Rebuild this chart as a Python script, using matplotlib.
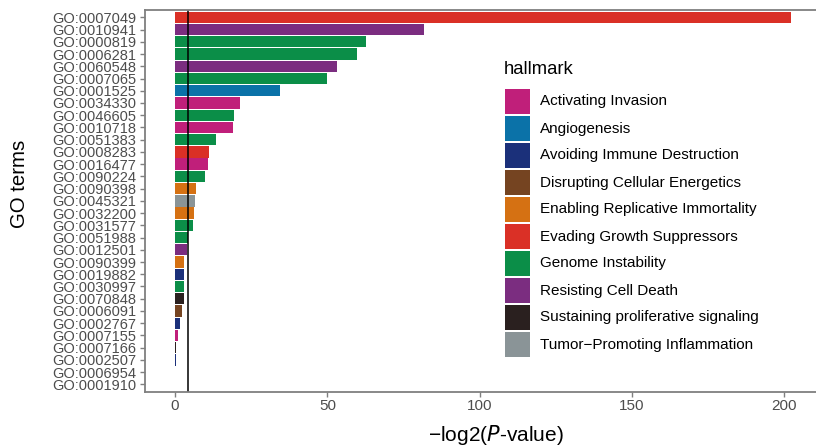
import matplotlib
matplotlib.use("Agg")
import matplotlib.pyplot as plt
from matplotlib.patches import Rectangle

plt.rcParams['font.family'] = ['Liberation Sans', 'DejaVu Sans']

go_terms = ["GO:0007049", "GO:0010941", "GO:0000819", "GO:0006281", "GO:0060548",
            "GO:0007065", "GO:0001525", "GO:0034330", "GO:0046605", "GO:0010718",
            "GO:0051383", "GO:0008283", "GO:0016477", "GO:0090224", "GO:0090398",
            "GO:0045321", "GO:0032200", "GO:0031577", "GO:0051988", "GO:0012501",
            "GO:0090399", "GO:0019882", "GO:0030997", "GO:0070848", "GO:0006091",
            "GO:0002767", "GO:0007155", "GO:0007166", "GO:0002507", "GO:0006954",
            "GO:0001910"]

neglog2p = [202.2, 81.7, 62.7, 59.7, 53.2,
            49.9, 34.5, 21.3, 19.4, 19.0,
            13.5, 11.2, 10.8, 9.8, 6.9,
            6.6, 6.2, 5.9, 4.4, 3.9,
            3.0, 3.0, 3.0, 3.0, 2.3,
            1.6, 1.0, 0.35, 0.3, 0.08,
            0.08]

term_hallmark = ["Evading Growth Suppressors", "Resisting Cell Death", "Genome Instability",
                 "Genome Instability", "Resisting Cell Death", "Genome Instability",
                 "Angiogenesis", "Activating Invasion", "Genome Instability",
                 "Activating Invasion", "Genome Instability", "Evading Growth Suppressors",
                 "Activating Invasion", "Genome Instability", "Enabling Replicative Immortality",
                 "Tumor\u2212Promoting Inflammation", "Enabling Replicative Immortality",
                 "Genome Instability", "Genome Instability", "Resisting Cell Death",
                 "Enabling Replicative Immortality", "Avoiding Immune Destruction",
                 "Genome Instability", "Sustaining proliferative signaling",
                 "Disrupting Cellular Energetics", "Avoiding Immune Destruction",
                 "Activating Invasion", "Sustaining proliferative signaling",
                 "Avoiding Immune Destruction", "Tumor\u2212Promoting Inflammation",
                 "Avoiding Immune Destruction"]

hallmarks = ["Activating Invasion", "Angiogenesis", "Avoiding Immune Destruction",
             "Disrupting Cellular Energetics", "Enabling Replicative Immortality",
             "Evading Growth Suppressors", "Genome Instability", "Resisting Cell Death",
             "Sustaining proliferative signaling", "Tumor\u2212Promoting Inflammation"]

hallmark_colors = ["#C01F7A", "#0B72A8", "#1B307A", "#754421", "#D57113",
                   "#DA3026", "#0B8E48", "#7B2D80", "#2A201F", "#8A9497"]

threshold = 4.32  # -log2(0.05)

W, H = 816, 447
fig = plt.figure(figsize=(W / 100, H / 100), dpi=100)

left_px, right_px, top_px, bottom_px = 145, 821, 10, 391.7
ax = fig.add_axes([left_px / W, 1 - bottom_px / H,
                   (right_px - left_px) / W, (bottom_px - top_px) / H])

cmap = dict(zip(hallmarks, hallmark_colors))
ypos = list(range(len(go_terms)))
ax.barh(ypos, neglog2p, height=0.93,
        color=[cmap[h] for h in term_hallmark], linewidth=0)
ax.axvline(threshold, color="black", lw=1.1)

ax.set_xlim(-9.85, 212.0)
ax.set_ylim(len(go_terms) - 0.4, -0.6)
ax.set_yticks(ypos)
ax.set_yticklabels(go_terms)
ax.set_xticks([0, 50, 100, 150, 200])

spine_col = "#7F7F7F"
for s in ["left", "bottom", "top"]:
    ax.spines[s].set_color(spine_col)
    ax.spines[s].set_linewidth(1.3)
ax.spines["right"].set_visible(False)
ax.tick_params(axis="both", colors=spine_col, labelcolor="#4D4D4D",
               labelsize=11, length=3.5, width=1.0, pad=2)
ax.tick_params(axis="y", pad=2.8, labelsize=10.5)

fig.text(496 / W, 1 - 435 / H, "\u2212log2($\\it{P}$-value)", ha="center", va="center",
         fontsize=15, color="black")
fig.text(20 / W, 1 - 184 / H, "GO terms", rotation=90, ha="center", va="center",
         fontsize=14.7, color="black")

# legend
fig.text(504 / W, 1 - 70 / H, "hallmark", ha="left", va="center", fontsize=13.3,
         color="black")
for i, (name, col) in enumerate(zip(hallmarks, hallmark_colors)):
    top = 89 + 27 * i
    fig.add_artist(Rectangle((505 / W, 1 - (top + 25) / H), 25 / W, 25 / H,
                             transform=fig.transFigure, facecolor=col,
                             edgecolor="none"))
    fig.text(540 / W, 1 - (top + 12.5) / H, name, ha="left", va="center",
             fontsize=11, color="black")

fig.savefig("out.png", dpi=100)
